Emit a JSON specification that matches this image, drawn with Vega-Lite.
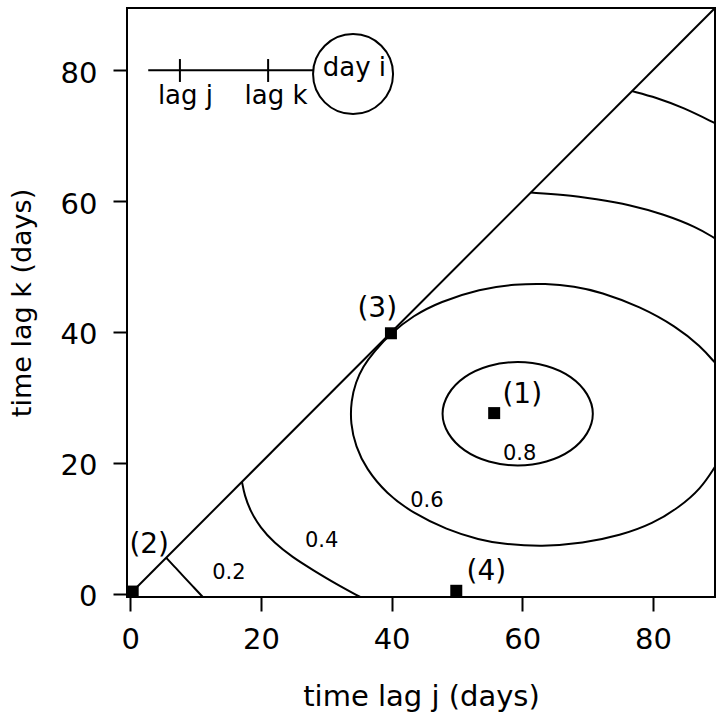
{
  "$schema": "https://vega.github.io/schema/vega-lite/v6.json",
  "width": 588,
  "height": 589,
  "autosize": {"type": "none"},
  "padding": {"left": 127, "top": 8, "right": 9, "bottom": 122},
  "background": "white",
  "config": {
    "view": {"stroke": "black", "strokeWidth": 2},
    "font": "DejaVu Sans"
  },
  "datasets": {
    "contours": [
      {"c": "a02", "j": 5.5, "k": 5.5},
      {"c": "a02", "j": 6.9, "k": 4.0},
      {"c": "a02", "j": 8.2, "k": 2.6},
      {"c": "a02", "j": 9.6, "k": 1.1},
      {"c": "a02", "j": 11.1, "k": -0.5},
      {"c": "a04", "j": 17.1, "k": 17.1},
      {"c": "a04", "j": 17.5, "k": 15.0},
      {"c": "a04", "j": 18.4, "k": 12.6},
      {"c": "a04", "j": 19.9, "k": 10.1},
      {"c": "a04", "j": 22.0, "k": 7.8},
      {"c": "a04", "j": 24.8, "k": 5.6},
      {"c": "a04", "j": 28.0, "k": 3.6},
      {"c": "a04", "j": 31.5, "k": 1.5},
      {"c": "a04", "j": 35.2, "k": -0.5},
      {"c": "a06", "j": 89.5, "k": 19.4},
      {"c": "a06", "j": 87.3, "k": 16.0},
      {"c": "a06", "j": 84.0, "k": 13.2},
      {"c": "a06", "j": 80.0, "k": 10.7},
      {"c": "a06", "j": 75.0, "k": 8.9},
      {"c": "a06", "j": 69.3, "k": 7.7},
      {"c": "a06", "j": 63.0, "k": 7.2},
      {"c": "a06", "j": 57.0, "k": 7.6},
      {"c": "a06", "j": 53.5, "k": 8.2},
      {"c": "a06", "j": 48.4, "k": 9.8},
      {"c": "a06", "j": 43.3, "k": 12.3},
      {"c": "a06", "j": 39.2, "k": 15.3},
      {"c": "a06", "j": 36.1, "k": 19.1},
      {"c": "a06", "j": 34.5, "k": 22.5},
      {"c": "a06", "j": 33.7, "k": 26.0},
      {"c": "a06", "j": 33.8, "k": 29.5},
      {"c": "a06", "j": 34.5, "k": 32.3},
      {"c": "a06", "j": 35.6, "k": 34.7},
      {"c": "a06", "j": 37.3, "k": 37.0},
      {"c": "a06", "j": 39.9, "k": 39.8},
      {"c": "a06", "j": 43.3, "k": 42.5},
      {"c": "a06", "j": 47.4, "k": 44.6},
      {"c": "a06", "j": 53.5, "k": 46.6},
      {"c": "a06", "j": 59.0, "k": 47.3},
      {"c": "a06", "j": 63.5, "k": 47.4},
      {"c": "a06", "j": 68.0, "k": 47.0},
      {"c": "a06", "j": 72.0, "k": 46.1},
      {"c": "a06", "j": 78.0, "k": 43.9},
      {"c": "a06", "j": 83.6, "k": 40.8},
      {"c": "a06", "j": 87.3, "k": 37.8},
      {"c": "a06", "j": 89.5, "k": 35.3},
      {"c": "b04", "j": 61.3, "k": 61.3},
      {"c": "b04", "j": 66.2, "k": 61.0},
      {"c": "b04", "j": 71.4, "k": 60.3},
      {"c": "b04", "j": 76.5, "k": 59.4},
      {"c": "b04", "j": 81.6, "k": 58.0},
      {"c": "b04", "j": 86.7, "k": 56.0},
      {"c": "b04", "j": 89.5, "k": 54.3},
      {"c": "b02", "j": 76.8, "k": 76.8},
      {"c": "b02", "j": 80.6, "k": 75.8},
      {"c": "b02", "j": 84.6, "k": 74.3},
      {"c": "b02", "j": 89.5, "k": 71.9}
    ],
    "inner": [
      {"j": 70.8, "k": 27.5},
      {"j": 69.9, "k": 30.5},
      {"j": 67.4, "k": 33.1},
      {"j": 63.7, "k": 34.8},
      {"j": 59.3, "k": 35.4},
      {"j": 54.9, "k": 34.8},
      {"j": 51.2, "k": 33.1},
      {"j": 48.7, "k": 30.5},
      {"j": 47.8, "k": 27.5},
      {"j": 48.7, "k": 24.5},
      {"j": 51.2, "k": 21.9},
      {"j": 54.9, "k": 20.2},
      {"j": 59.3, "k": 19.6},
      {"j": 63.7, "k": 20.2},
      {"j": 67.4, "k": 21.9},
      {"j": 69.9, "k": 24.5}
    ],
    "segments": [
      {"j": 0, "k": 0, "j2": 89.5, "k2": 89.5},
      {"j": 2.75, "k": 80, "j2": 28.0, "k2": 80},
      {"j": 7.6, "k": 78.2, "j2": 7.6, "k2": 81.7},
      {"j": 21.1, "k": 78.2, "j2": 21.1, "k2": 81.7}
    ],
    "circle": [{"j": 34.1, "k": 79.4}],
    "markers": [
      {"j": 55.7, "k": 27.6},
      {"j": 0.37, "k": 0.33},
      {"j": 39.9, "k": 39.8},
      {"j": 49.9, "k": 0.45}
    ],
    "markerLabels": [
      {"j": 60.0, "k": 30.4, "t": "(1)"},
      {"j": 2.9, "k": 7.5, "t": "(2)"},
      {"j": 37.8, "k": 43.5, "t": "(3)"},
      {"j": 54.5, "k": 3.3, "t": "(4)"}
    ],
    "levelLabels": [
      {"j": 15.1, "k": 3.1, "t": "0.2"},
      {"j": 29.3, "k": 8.0, "t": "0.4"},
      {"j": 45.4, "k": 14.2, "t": "0.6"},
      {"j": 59.6, "k": 21.3, "t": "0.8"}
    ],
    "insetLabels": [
      {"j": 8.45, "k": 74.9, "t": "lag j"},
      {"j": 22.3, "k": 74.9, "t": "lag k"},
      {"j": 34.3, "k": 79.1, "t": "day i"}
    ]
  },
  "layer": [
    {
      "data": {"name": "contours"},
      "mark": {"type": "line", "color": "black", "strokeWidth": 2, "interpolate": "basis", "clip": true},
      "encoding": {
        "x": {
          "field": "j", "type": "quantitative",
          "scale": {"domain": [-0.5, 89.5], "nice": false, "zero": false},
          "axis": {
            "values": [0, 20, 40, 60, 80],
            "title": "time lag j (days)",
            "domain": false, "grid": false,
            "tickSize": 14, "tickWidth": 2, "tickColor": "black",
            "labelFontSize": 29, "labelFont": "DejaVu Sans", "labelColor": "black",
            "labelPadding": 14, "labelFlush": false, "labelOverlap": false,
            "titleFontSize": 29, "titleFont": "DejaVu Sans", "titleFontWeight": "normal",
            "titleColor": "black", "titlePadding": 28
          }
        },
        "y": {
          "field": "k", "type": "quantitative",
          "scale": {"domain": [-0.5, 89.5], "nice": false, "zero": false},
          "axis": {
            "values": [0, 20, 40, 60, 80],
            "title": "time lag k (days)",
            "domain": false, "grid": false,
            "tickSize": 14, "tickWidth": 2, "tickColor": "black",
            "labelFontSize": 29, "labelFont": "DejaVu Sans", "labelColor": "black",
            "labelPadding": 16, "labelOffset": 3, "labelFlush": false, "labelOverlap": false,
            "labelAngle": 0,
            "titleFontSize": 27, "titleFont": "DejaVu Sans", "titleFontWeight": "normal",
            "titleColor": "black", "titlePadding": 24
          }
        },
        "detail": {"field": "c", "type": "nominal"},
        "order": {"value": null}
      }
    },
    {
      "data": {"name": "inner"},
      "mark": {"type": "line", "color": "black", "strokeWidth": 2, "interpolate": "cardinal-closed", "clip": true},
      "encoding": {
        "x": {"field": "j", "type": "quantitative"},
        "y": {"field": "k", "type": "quantitative"},
        "order": {"value": null}
      }
    },
    {
      "data": {"name": "segments"},
      "mark": {"type": "rule", "color": "black", "strokeWidth": 2, "clip": true},
      "encoding": {
        "x": {"field": "j", "type": "quantitative"},
        "y": {"field": "k", "type": "quantitative"},
        "x2": {"field": "j2"},
        "y2": {"field": "k2"}
      }
    },
    {
      "data": {"name": "circle"},
      "mark": {"type": "point", "shape": "circle", "filled": false, "stroke": "black", "strokeWidth": 2, "size": 6400, "opacity": 1},
      "encoding": {
        "x": {"field": "j", "type": "quantitative"},
        "y": {"field": "k", "type": "quantitative"}
      }
    },
    {
      "data": {"name": "markers"},
      "mark": {"type": "point", "shape": "square", "filled": true, "color": "black", "size": 144, "opacity": 1},
      "encoding": {
        "x": {"field": "j", "type": "quantitative"},
        "y": {"field": "k", "type": "quantitative"}
      }
    },
    {
      "data": {"name": "markerLabels"},
      "mark": {"type": "text", "font": "DejaVu Sans", "fontSize": 28, "color": "black", "align": "center", "baseline": "middle"},
      "encoding": {
        "x": {"field": "j", "type": "quantitative"},
        "y": {"field": "k", "type": "quantitative"},
        "text": {"field": "t"}
      }
    },
    {
      "data": {"name": "levelLabels"},
      "mark": {"type": "text", "font": "DejaVu Sans", "fontSize": 21, "color": "black", "align": "center", "baseline": "middle"},
      "encoding": {
        "x": {"field": "j", "type": "quantitative"},
        "y": {"field": "k", "type": "quantitative"},
        "text": {"field": "t"}
      }
    },
    {
      "data": {"name": "insetLabels"},
      "mark": {"type": "text", "font": "DejaVu Sans", "fontSize": 26, "color": "black", "align": "center", "baseline": "alphabetic"},
      "encoding": {
        "x": {"field": "j", "type": "quantitative"},
        "y": {"field": "k", "type": "quantitative"},
        "text": {"field": "t"}
      }
    }
  ]
}
